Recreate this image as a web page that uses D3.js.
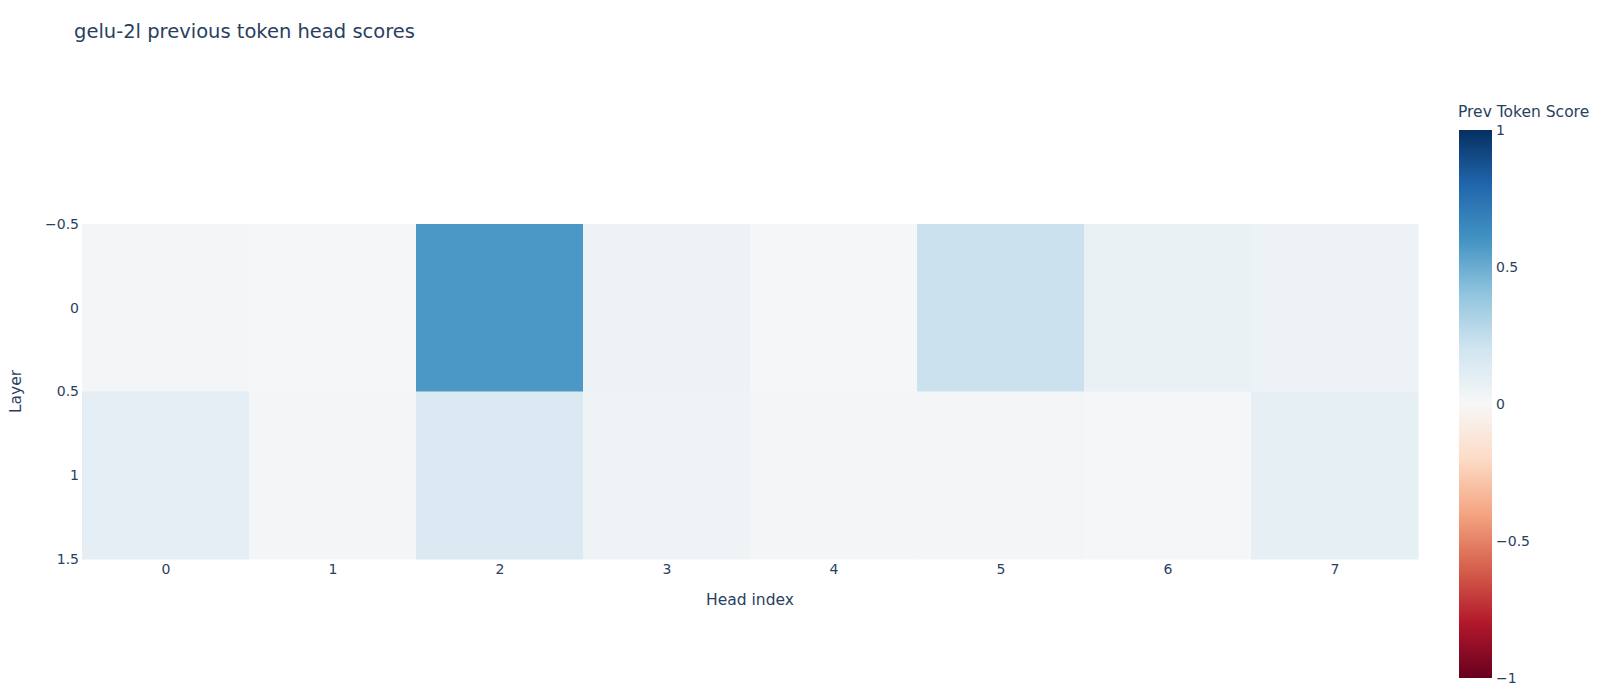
<!DOCTYPE html>
<html>
<head>
<meta charset="utf-8">
<script src="https://cdn.jsdelivr.net/npm/d3@7"></script>
<style>
html,body{margin:0;padding:0;background:#fff;}
svg{display:block;font-family:"DejaVu Sans",sans-serif;}
</style>
</head>
<body>
<svg id="chart" width="1600" height="699"></svg>
<script>
const title = "gelu-2l previous token head scores";
const heads = [0,1,2,3,4,5,6,7];
const layers = [0,1];
const layer0Scores = [0.02, 0.01, 0.58, 0.06, 0.01, 0.22, 0.07, 0.06];
const layer1Scores = [0.10, 0.02, 0.15, 0.05, 0.02, 0.02, 0.01, 0.09];
const xTickLabels = ["0","1","2","3","4","5","6","7"];
const yTickValues = [-0.5, 0, 0.5, 1, 1.5];
const cbTickValues = [1, 0.5, 0, -0.5, -1];
const rdBuStops = ["rgb(103,0,31)","rgb(178,24,43)","rgb(214,96,77)","rgb(244,165,130)","rgb(253,219,199)","rgb(247,247,247)","rgb(209,229,240)","rgb(146,197,222)","rgb(67,147,195)","rgb(33,102,172)","rgb(5,48,97)"];

const scores = [layer0Scores, layer1Scores];
const cells = [];
layers.forEach((l,li)=>heads.forEach((h,hi)=>cells.push({layer:l, head:h, v:scores[li][hi]})));

const svg = d3.select("#chart");
const textColor = "#2a3f5f";
const fontFam = "DejaVu Sans";
const fmt = v => (v<0 ? "\u2212" : "") + String(Math.abs(v));

const plot = {left:82, right:1418, top:224, bottom:559};
const x = d3.scaleLinear().domain([-0.5, 7.5]).range([plot.left, plot.right]);
const y = d3.scaleLinear().domain([-0.5, 1.5]).range([plot.top, plot.bottom]);
const color = d3.scaleLinear()
  .domain(d3.range(rdBuStops.length).map(i => -1 + 2*i/(rdBuStops.length-1)))
  .range(rdBuStops).interpolate(d3.interpolateRgb).clamp(true);

// title
svg.append("text").attr("x", 74).attr("y", 38).attr("fill", textColor)
  .attr("font-size", 19.5).text(title);

// cells
svg.append("g").selectAll("rect").data(cells).join("rect")
  .attr("x", d => x(d.head - 0.5))
  .attr("y", d => y(d.layer - 0.5))
  .attr("width", d => x(d.head + 0.5) - x(d.head - 0.5) + 0.5)
  .attr("height", d => y(d.layer + 0.5) - y(d.layer - 0.5) + 0.5)
  .attr("fill", d => color(d.v));

// x axis
const xAxis = d3.axisBottom(x).tickValues(heads).tickFormat((d,i)=>xTickLabels[i]).tickSize(0).tickPadding(5);
const gx = svg.append("g").attr("transform", `translate(0,${plot.bottom})`).call(xAxis);
gx.select(".domain").remove();
gx.selectAll("text").attr("fill", textColor).attr("font-size", 14).attr("font-family", fontFam);

// y axis
const yAxis = d3.axisLeft(y).tickValues(yTickValues).tickFormat(fmt).tickSize(0).tickPadding(3);
const gy = svg.append("g").attr("transform", `translate(${plot.left},0)`).call(yAxis);
gy.select(".domain").remove();
gy.selectAll("text").attr("fill", textColor).attr("font-size", 14).attr("font-family", fontFam);

// axis titles
svg.append("text").attr("x", (plot.left+plot.right)/2).attr("y", 605).attr("text-anchor","middle")
  .attr("fill", textColor).attr("font-size", 15.5).text("Head index");
svg.append("text").attr("transform", `translate(21,${(plot.top+plot.bottom)/2}) rotate(-90)`)
  .attr("text-anchor","middle").attr("fill", textColor).attr("font-size", 15.5).text("Layer");

// colorbar
const cb = {x:1459, w:33, top:130, bottom:678};
const cy = d3.scaleLinear().domain([1, -1]).range([cb.top, cb.bottom]);
const defs = svg.append("defs");
const grad = defs.append("linearGradient").attr("id","cbgrad").attr("x1",0).attr("y1",1).attr("x2",0).attr("y2",0);
rdBuStops.forEach((c,i)=>grad.append("stop").attr("offset", i/(rdBuStops.length-1)).attr("stop-color", c));
svg.append("rect").attr("x", cb.x).attr("y", cb.top).attr("width", cb.w).attr("height", cb.bottom-cb.top)
  .attr("fill","url(#cbgrad)");
const cbAxis = d3.axisRight(cy).tickValues(cbTickValues).tickFormat(fmt).tickSize(0).tickPadding(4);
const gcb = svg.append("g").attr("transform", `translate(${cb.x+cb.w},0)`).call(cbAxis);
gcb.select(".domain").remove();
gcb.selectAll("text").attr("fill", textColor).attr("font-size", 14).attr("font-family", fontFam);
svg.append("text").attr("x", 1458).attr("y", 117).attr("fill", textColor).attr("font-size", 15.5).text("Prev Token Score");
</script>
</body>
</html>
